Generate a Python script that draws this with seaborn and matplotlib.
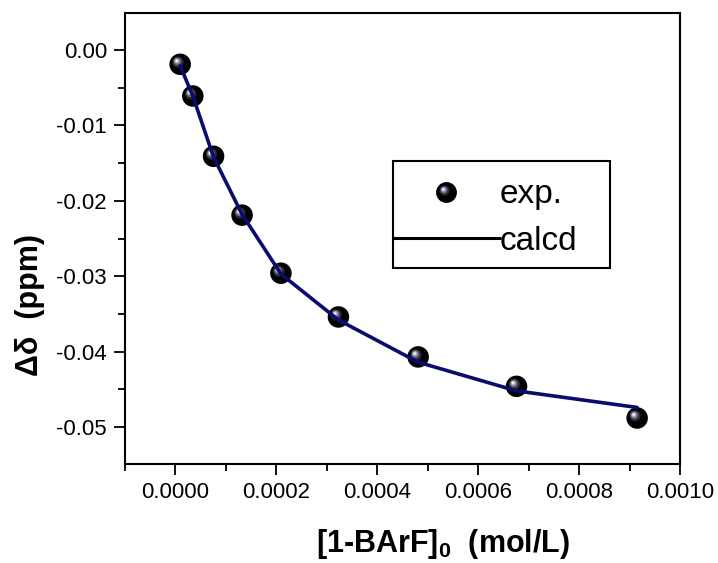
import numpy as np
import pandas as pd
import matplotlib
matplotlib.use("Agg")
import matplotlib.pyplot as plt
from matplotlib.path import Path
from matplotlib.markers import MarkerStyle
from matplotlib.patches import Rectangle
from matplotlib.lines import Line2D
from matplotlib.legend_handler import HandlerTuple
from matplotlib.ticker import MultipleLocator, FormatStrFormatter
import seaborn as sns

# titration data: host concentration vs. chemical shift change
conc = [0.0000093, 0.0000344, 0.0000755, 0.000132, 0.000209, 0.000323, 0.000481, 0.000676, 0.000915]
shift_exp = [-0.0019, -0.0061, -0.0141, -0.0219, -0.0296, -0.0354, -0.0407, -0.0446, -0.0488]
shift_calc = [-0.0021, -0.0061, -0.0142, -0.0218, -0.0297, -0.0358, -0.0414, -0.0452, -0.0474]

x_ticks = [0.0000, 0.0002, 0.0004, 0.0006, 0.0008, 0.0010]
y_ticks = [-0.05, -0.04, -0.03, -0.02, -0.01, 0.00]

df = pd.DataFrame({"conc": conc, "exp": shift_exp, "calc": shift_calc})

sns.set_style("ticks")
plt.rcParams["font.family"] = ["Liberation Sans", "DejaVu Sans"]
plt.rcParams["mathtext.fontset"] = "custom"
plt.rcParams["mathtext.bf"] = "Liberation Sans:bold"
plt.rcParams["mathtext.rm"] = "Liberation Sans"
plt.rcParams["text.color"] = "black"
plt.rcParams["axes.labelcolor"] = "black"

fig = plt.figure(figsize=(7.18, 5.63), dpi=100)
ax = fig.add_axes([0.1741, 0.1758, 0.7730, 0.8011])


def spot(cx, cy, r):
    """Circle path placed inside the unit marker box (kept unscaled)."""
    circ = Path.circle((cx, cy), r)
    verts = np.vstack([[[-0.5, -0.5]], [[0.5, 0.5]], circ.vertices])
    codes = [Path.MOVETO, Path.MOVETO] + list(circ.codes)
    return Path(verts, codes)


# glossy sphere: black body plus layered highlight spots
shine = [
    (spot(-0.10, 0.10, 0.26), "#2a2a3a"),
    (spot(-0.13, 0.13, 0.18), "#6e6e80"),
    (spot(-0.15, 0.15, 0.11), "#b8b8c8"),
    (spot(-0.16, 0.16, 0.05), "#ffffff"),
]
msize = 240

sns.scatterplot(data=df, x="conc", y="exp", ax=ax, color="black", s=msize,
                edgecolor="none", marker="o", zorder=3, legend=False)
for path, col in shine:
    ax.scatter(df["conc"], df["exp"], s=msize, marker=MarkerStyle(path),
               color=col, edgecolor="none", zorder=4)

sns.lineplot(data=df, x="conc", y="calc", ax=ax, color="#0c0c6e", lw=2.6,
             sort=False, estimator=None, zorder=5)

ax.set_xlim(-0.0001, 0.0010)
ax.set_ylim(-0.0549, 0.0049)
ax.set_xticks(x_ticks)
ax.set_yticks(y_ticks)
ax.xaxis.set_minor_locator(MultipleLocator(0.0001))
ax.yaxis.set_minor_locator(MultipleLocator(0.005))
ax.xaxis.set_major_formatter(FormatStrFormatter("%.4f"))
ax.yaxis.set_major_formatter(FormatStrFormatter("%.2f"))

ax.tick_params(which="major", direction="out", length=8, width=1.3,
               labelsize=16, colors="black", pad=5)
ax.tick_params(which="minor", direction="out", length=5, width=1.3,
               colors="black")
ax.tick_params(top=False, right=False, which="both")
for sp in ax.spines.values():
    sp.set_visible(True)
    sp.set_linewidth(1.5)
    sp.set_color("black")

ax.set_xlabel(r"[1-BArF]$_\mathbf{0}$  (mol/L)", fontsize=22, fontweight="bold")
ax.set_ylabel("Δδ  (ppm)", fontsize=22, fontweight="bold")
ax.xaxis.set_label_coords(0.573, -0.14)
ax.yaxis.set_label_coords(-0.145, 0.353)

# legend: sphere marker and fitted line
sphere = tuple([Line2D([], [], ls="", marker="o", color="black", markersize=14)] +
               [Line2D([], [], ls="", marker=MarkerStyle(p), color=c,
                       markeredgewidth=0, markersize=14) for p, c in shine])
fit = Line2D([], [], color="black", lw=2.2)
leg = ax.legend([sphere, fit], ["exp.", "calcd"],
                handler_map={tuple: HandlerTuple(ndivide=1, pad=0)},
                loc="upper left", bbox_to_anchor=(0.483, 0.631),
                frameon=False, fontsize=24, handlelength=3.2,
                handletextpad=0.0, borderpad=0, labelspacing=0.47,
                borderaxespad=0)
for t in leg.get_texts():
    t.set_color("black")
ax.add_patch(Rectangle((0.483, 0.435), 0.391, 0.237, transform=ax.transAxes,
                       fill=False, edgecolor="black", lw=1.5, zorder=6))

fig.savefig("out.png", dpi=100, facecolor="white")
